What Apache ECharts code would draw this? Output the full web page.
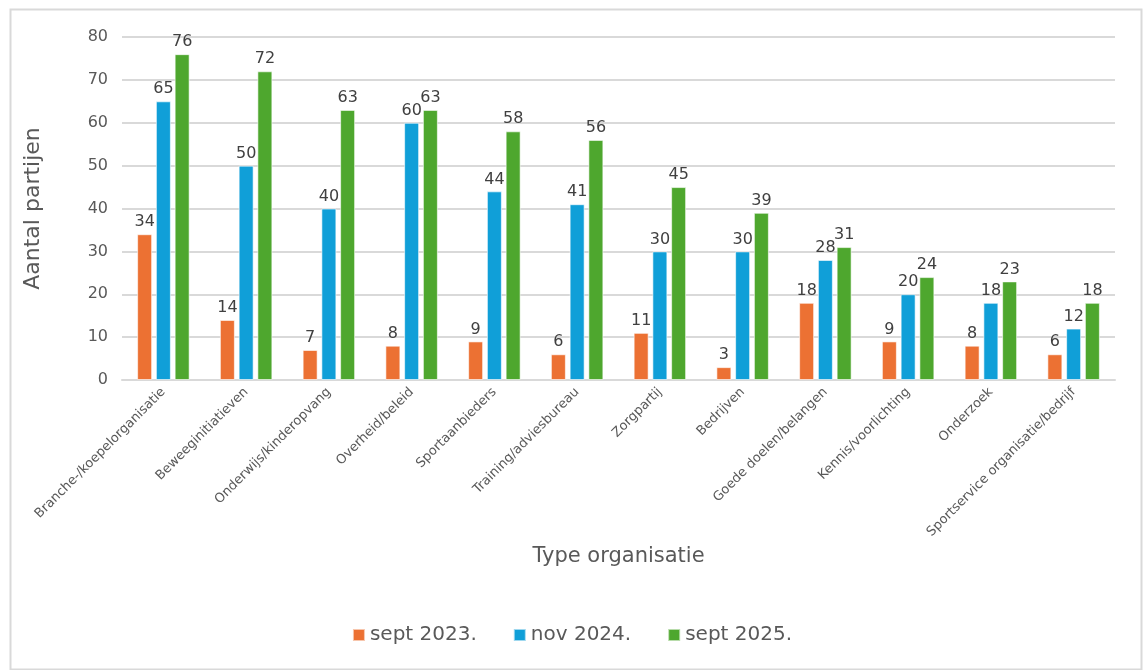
<!DOCTYPE html>
<html>
<head>
<meta charset="utf-8">
<script src="https://cdn.jsdelivr.net/npm/echarts@6/dist/echarts.min.js"></script>
<style>
  html, body { margin: 0; padding: 0; background: #fff; }
  #chart { width: 1144px; height: 670px; }
</style>
</head>
<body>
<div id="chart"></div>
<script>
// categorieen (x-as)
var categories = [
    'Branche-/koepelorganisatie', 'Beweeginitiatieven', 'Onderwijs/kinderopvang',
    'Overheid/beleid', 'Sportaanbieders', 'Training/adviesbureau', 'Zorgpartij',
    'Bedrijven', 'Goede doelen/belangen', 'Kennis/voorlichting', 'Onderzoek',
    'Sportservice organisatie/bedrijf'
];
var seriesNames = ['sept 2023.', 'nov 2024.', 'sept 2025.'];
var sept2023 = [34, 14, 7, 8, 9, 6, 11, 3, 18, 9, 8, 6];
var nov2024 = [65, 50, 40, 60, 44, 41, 30, 30, 28, 20, 18, 12];
var sept2025 = [76, 72, 63, 63, 58, 56, 45, 39, 31, 24, 23, 18];
var colors = ['#EC7133', '#109FD8', '#4EA72E'];

var font = '"DejaVu Sans", Verdana, sans-serif';

function makeSeries(name, data, color) {
    return {
        name: name,
        type: 'bar',
        data: data,
        barWidth: 15,
        barGap: '25%',
        itemStyle: { color: color, borderColor: 'rgba(255,255,255,0.6)', borderWidth: 1 },
        label: {
            show: true,
            position: 'top',
            distance: 4,
            color: '#404040',
            fontSize: 16,
            fontFamily: font
        }
    };
}

var myChart = echarts.init(document.getElementById('chart'));
var option = {
    animation: false,
    backgroundColor: '#fff',
    color: colors,
    graphic: [{
        type: 'rect',
        left: 8, top: 7,
        shape: { width: 1131, height: 660 },
        style: { fill: 'none', stroke: '#d9d9d9', lineWidth: 2 },
        silent: true
    }],
    grid: { left: 122, right: 29, top: 37, bottom: 290 },
    legend: {
        bottom: 20,
        left: 'center',
        itemWidth: 12,
        itemHeight: 12,
        itemGap: 36,
        icon: 'rect',
        textStyle: { color: '#595959', fontSize: 20, fontFamily: font },
        data: seriesNames
    },
    xAxis: {
        type: 'category',
        data: categories,
        name: 'Type organisatie',
        nameLocation: 'middle',
        nameGap: 162,
        nameTextStyle: { color: '#595959', fontSize: 21, fontFamily: font },
        axisLine: { lineStyle: { color: '#d9d9d9', width: 2 } },
        axisTick: { show: false },
        axisLabel: {
            rotate: 45,
            interval: 0,
            margin: 10,
            color: '#595959',
            fontSize: 13,
            fontFamily: font
        }
    },
    yAxis: {
        type: 'value',
        min: 0,
        max: 80,
        interval: 10,
        name: 'Aantal partijen',
        nameLocation: 'middle',
        nameGap: 78,
        nameTextStyle: { color: '#595959', fontSize: 22, fontFamily: font },
        axisLine: { show: false },
        axisTick: { show: false },
        splitLine: { lineStyle: { color: '#d9d9d9', width: 2 } },
        axisLabel: { color: '#595959', fontSize: 16, fontFamily: font, margin: 14 }
    },
    series: [
        makeSeries(seriesNames[0], sept2023, colors[0]),
        makeSeries(seriesNames[1], nov2024, colors[1]),
        makeSeries(seriesNames[2], sept2025, colors[2])
    ]
};
myChart.setOption(option, true);
</script>
</body>
</html>
